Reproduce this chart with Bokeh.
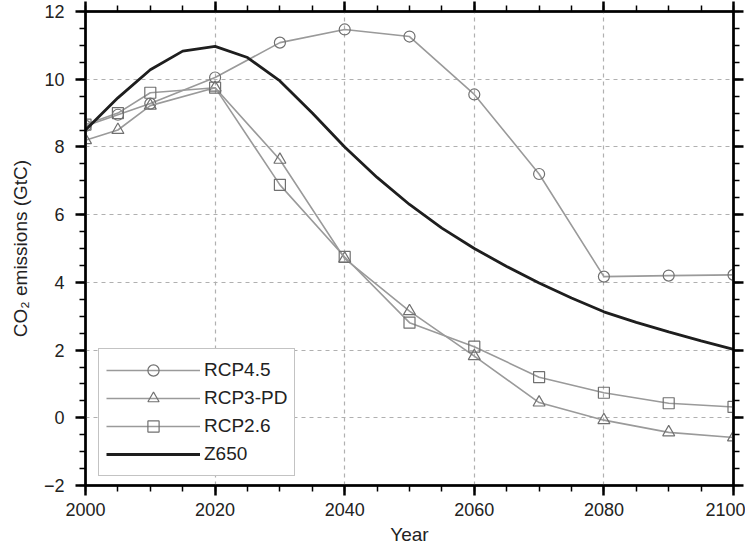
from bokeh.plotting import figure
from bokeh.models import LinearAxis, FixedTicker, Legend, LegendItem, Range1d
from bokeh.embed import file_html
from bokeh.resources import INLINE

# ---- data ----
years_rcp = [2000, 2005, 2010, 2020, 2030, 2040, 2050, 2060, 2070, 2080, 2090, 2100]
rcp45 = [8.62, 8.95, 9.28, 10.05, 11.08, 11.47, 11.26, 9.55, 7.2, 4.17, 4.2, 4.22]
rcp3pd = [8.2, 8.5, 9.22, 9.75, 7.62, 4.7, 3.15, 1.82, 0.45, -0.07, -0.43, -0.58]
rcp26 = [8.66, 9.0, 9.6, 9.75, 6.88, 4.75, 2.81, 2.1, 1.2, 0.74, 0.43, 0.32]

years_z = [2000, 2005, 2010, 2015, 2020, 2025, 2030, 2035, 2040, 2045, 2050,
           2055, 2060, 2065, 2070, 2075, 2080, 2085, 2090, 2095, 2100]
z650 = [8.5, 9.45, 10.28, 10.83, 10.97, 10.64, 9.95, 9.0, 8.0, 7.1, 6.3,
        5.6, 5.0, 4.47, 3.98, 3.54, 3.13, 2.82, 2.54, 2.27, 2.02]

x_major = [2000, 2020, 2040, 2060, 2080, 2100]
x_minor = list(range(2000, 2101, 5))
y_major = [-2, 0, 2, 4, 6, 8, 10, 12]
y_minor = [v / 2 for v in range(-4, 25)]

FONT = "Liberation Sans"
TXT = "#222222"
GRAY = "#9a9a9a"
MK = "#707070"

p = figure(frame_width=648, frame_height=474,
           x_range=Range1d(2000, 2100), y_range=Range1d(-2, 12),
           output_backend="svg", toolbar_location=None,
           min_border_left=85, min_border_right=12,
           min_border_top=11, min_border_bottom=65,
           background_fill_color="white", border_fill_color="white")
p.outline_line_color = "black"
p.outline_line_width = 2


def style_axis(ax, ticks, minor, tick_out, minor_out, labels=True):
    ax.ticker = FixedTicker(ticks=ticks, minor_ticks=minor)
    ax.axis_line_width = 2.5
    ax.axis_line_color = "black"
    ax.major_tick_line_width = 2.5
    ax.major_tick_line_color = "black"
    ax.minor_tick_line_width = 1.5
    ax.minor_tick_line_color = "black"
    ax.major_tick_in = 0
    ax.major_tick_out = tick_out
    ax.minor_tick_in = 0
    ax.minor_tick_out = minor_out
    ax.major_label_text_font = FONT
    ax.axis_label_text_font = FONT
    ax.axis_label_text_color = TXT
    ax.axis_label_text_font_style = "normal"
    if labels:
        ax.major_label_text_color = TXT
        ax.major_label_text_font_size = "18px"
        ax.axis_label_text_font_size = "19px"
    else:
        ax.major_label_text_color = None
        ax.major_label_standoff = 0


style_axis(p.xaxis[0], x_major, x_minor, 10, 6)
p.xaxis[0].major_label_standoff = 7
p.xaxis[0].axis_label = "Year"
p.xaxis[0].axis_label_standoff = 5

style_axis(p.yaxis[0], y_major, y_minor, 10, 6)
p.yaxis[0].major_label_standoff = 11
p.yaxis[0].axis_label = "CO₂ emissions (GtC)"
p.yaxis[0].axis_label_standoff = 10

top = LinearAxis()
style_axis(top, x_major, x_minor, 10, 6, labels=False)
p.add_layout(top, "above")
right = LinearAxis()
style_axis(right, y_major, y_minor, 10, 6, labels=False)
p.add_layout(right, "right")

for g in (p.xgrid[0], p.ygrid[0]):
    g.grid_line_color = "#b0b0b0"
    g.grid_line_dash = "4 4"
    g.grid_line_width = 1.2
p.xgrid[0].ticker = FixedTicker(ticks=x_major)
p.ygrid[0].ticker = FixedTicker(ticks=y_major)

# ---- series ----
l45 = p.line(years_rcp, rcp45, line_color=GRAY, line_width=1.6)
m45 = p.scatter(years_rcp, rcp45, marker="circle", size=11, fill_alpha=0.0,
                line_color=MK, line_width=1.2)
l3 = p.line(years_rcp, rcp3pd, line_color=GRAY, line_width=1.6)
m3 = p.scatter(years_rcp, rcp3pd, marker="triangle", size=12, fill_alpha=0.0,
               line_color=MK, line_width=1.2)
l26 = p.line(years_rcp, rcp26, line_color=GRAY, line_width=1.6)
m26 = p.scatter(years_rcp, rcp26, marker="square", size=11, fill_alpha=0.0,
                line_color=MK, line_width=1.2)
lz = p.line(years_z, z650, line_color="#1e1e1e", line_width=2.8)

legend = Legend(items=[
    LegendItem(label="RCP4.5", renderers=[l45, m45]),
    LegendItem(label="RCP3-PD", renderers=[l3, m3]),
    LegendItem(label="RCP2.6", renderers=[l26, m26]),
    LegendItem(label="Z650", renderers=[lz]),
], location=(13, 9))
legend.label_text_font = FONT
legend.label_text_font_size = "19px"
legend.label_text_color = TXT
legend.glyph_width = 94
legend.glyph_height = 28
legend.label_height = 28
legend.label_standoff = 4
legend.spacing = 0
legend.padding = 7
legend.margin = 0
legend.border_line_color = "#888888"
legend.border_line_width = 1.5
legend.background_fill_alpha = 1.0
p.add_layout(legend, "center")

open("out.html", "w").write(file_html(p, INLINE))
